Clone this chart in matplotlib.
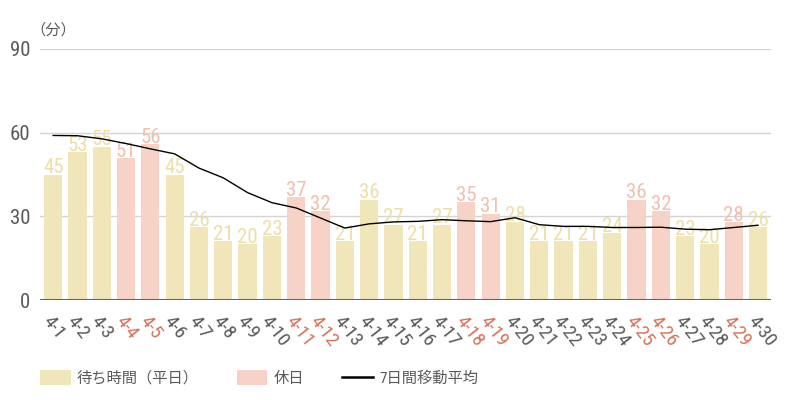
import matplotlib
matplotlib.use("Agg")
import matplotlib.pyplot as plt
from matplotlib.patches import Patch
from matplotlib.lines import Line2D

plt.rcParams["font.family"] = ["Roboto Condensed", "Noto Sans CJK JP", "DejaVu Sans"]

# 4月の日付
days = [f"4-{d}" for d in range(1, 31)]
wait_minutes = [45, 53, 55, 51, 56, 45, 26, 21, 20, 23,
                37, 32, 21, 36, 27, 21, 27, 35, 31, 28,
                21, 21, 21, 24, 36, 32, 23, 20, 28, 26]
holidays = ["4-4", "4-5", "4-11", "4-12", "4-18", "4-19", "4-25", "4-26", "4-29"]
moving_avg = [59.0, 58.9, 57.8, 56.1, 54.2, 52.4, 47.3, 43.8, 38.5, 34.9,
              33.0, 29.4, 25.8, 27.3, 28.0, 28.2, 28.8, 28.4, 28.1, 29.5,
              27.0, 26.4, 26.4, 26.0, 26.0, 26.1, 25.4, 25.2, 26.0, 26.8]
y_ticks = [0, 30, 60, 90]

WEEKDAY_BAR = "#f1e6b9"
HOLIDAY_BAR = "#f6d3c6"
WEEKDAY_TXT = "#eedfa6"
HOLIDAY_TXT = "#f0c1ad"
HOLIDAY_TICK = "#d4735a"
GRAY = "#5a5a5a"

fig = plt.figure(figsize=(8, 4), dpi=100)
ax = fig.add_axes([0.05, 0.25, 0.914, 0.6275])

x = list(range(len(days)))
is_hol = [d in holidays for d in days]
bar_colors = [HOLIDAY_BAR if h else WEEKDAY_BAR for h in is_hol]
ax.bar(x, wait_minutes, width=0.75, color=bar_colors, zorder=2)

for xi, v, h in zip(x, wait_minutes, is_hol):
    ax.text(xi, v - 1.0, str(v), ha="center", va="bottom", fontsize=15,
            color=HOLIDAY_TXT if h else WEEKDAY_TXT, zorder=3)

ax.plot(x, moving_avg, color="black", lw=1.0, zorder=4)

ax.set_xlim(-0.54, 29.54)
ax.set_ylim(0, 90)
ax.set_yticks(y_ticks)
ax.set_yticklabels([str(t) for t in y_ticks], fontsize=15, color=GRAY)
for t in y_ticks[1:]:
    ax.axhline(t, color="#d4d4d4", lw=1, zorder=1)
ax.axhline(0, color="#666666", lw=1.5, zorder=5)

ax.set_xticks(x)
ax.set_xticklabels(days, rotation=-52, ha="left", va="top",
                   rotation_mode="anchor", fontsize=14)
for lbl, h in zip(ax.get_xticklabels(), is_hol):
    lbl.set_color(HOLIDAY_TICK if h else GRAY)

ax.tick_params(axis="both", length=0)
ax.tick_params(axis="x", pad=9)
ax.tick_params(axis="y", pad=7)
for s in ax.spines.values():
    s.set_visible(False)

fig.text(0.038, 0.905, "（分）", fontsize=11, color=GRAY, ha="left", va="bottom")

handles = [
    Patch(facecolor=WEEKDAY_BAR, edgecolor="none", label="待ち時間（平日）"),
    Patch(facecolor=HOLIDAY_BAR, edgecolor="none", label="休日"),
    Line2D([0], [0], color="black", lw=1.8, label="7日間移動平均"),
]
fig.legend(handles=handles, loc="center left", bbox_to_anchor=(0.05, 0.055),
           ncol=3, frameon=False, fontsize=11, handlelength=2.0,
           handleheight=1.1, handletextpad=0.4, columnspacing=2.5,
           labelcolor=GRAY, borderaxespad=0, borderpad=0)

fig.savefig("out.png", dpi=100)
